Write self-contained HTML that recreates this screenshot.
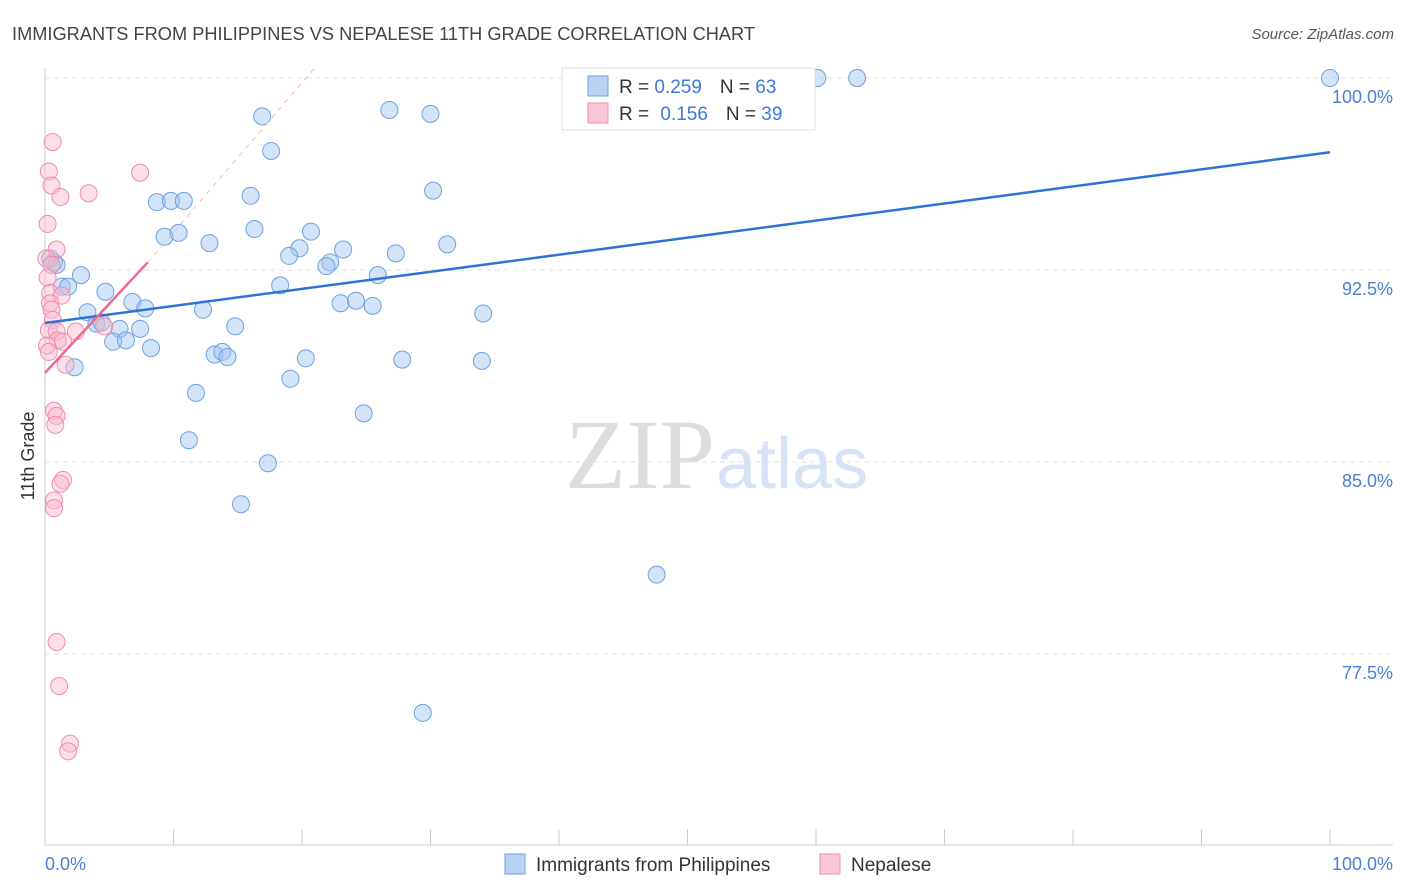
<!DOCTYPE html>
<html><head><meta charset="utf-8"><style>
body{margin:0;background:#fff;font-family:"Liberation Sans",sans-serif;}
svg{display:block}
</style></head><body>
<svg id="chart" width="1406" height="892" viewBox="0 0 1406 892">
<text x="12" y="40" font-size="18.2" fill="#444" textLength="743">IMMIGRANTS FROM PHILIPPINES VS NEPALESE 11TH GRADE CORRELATION CHART</text>
<text x="1394" y="39" font-size="15" fill="#555" text-anchor="end" font-style="italic">Source: ZipAtlas.com</text>
<text x="715" y="488" font-size="100" fill="#ddd" text-anchor="end" font-family="Liberation Serif">ZIP</text>
<text x="716" y="488" font-size="72" fill="#d5e3f5">atlas</text>
<g id="grid"></g>
<g id="axes"></g>
<g id="trends"></g>
<g id="points"></g>
<text transform="translate(34,456) rotate(-90)" font-size="18" fill="#333" text-anchor="middle">11th Grade</text>
<text x="45" y="870" font-size="18" fill="#4a7fd4">0.0%</text>
<text x="1393" y="870" font-size="18" fill="#4a7fd4" text-anchor="end">100.0%</text>
<g id="statslegend">
<rect x="562" y="68" width="253" height="62" fill="#fff" stroke="#ddd"/>
<rect x="588" y="76" width="20" height="20" fill="#b8d2f4" stroke="#6fa0e0"/>
<rect x="588" y="103" width="20" height="20" fill="#f9c6d5" stroke="#f08cab"/>
<text x="619" y="93" font-size="19" fill="#333">R = <tspan fill="#3b78d8">0.259</tspan><tspan dx="18">N = </tspan><tspan fill="#3b78d8">63</tspan></text>
<text x="619" y="120" font-size="19" fill="#333">R = <tspan dx="6" fill="#3b78d8">0.156</tspan><tspan dx="18">N = </tspan><tspan fill="#3b78d8">39</tspan></text>
</g>
<g>
<rect x="505" y="854" width="20" height="20" fill="#b8d2f4" stroke="#6fa0e0"/>
<text x="536" y="871" font-size="19" fill="#333">Immigrants from Philippines</text>
<rect x="820" y="854" width="20" height="20" fill="#f9c6d5" stroke="#f08cab"/>
<text x="851" y="871" font-size="19" fill="#333">Nepalese</text>
</g>
</svg>
<script>
const yTicks=[100,92.5,85,77.5];
const yTickLabels=["100.0%","92.5%","85.0%","77.5%"];
const xTicks=[0,10,20,30,40,50,60,70,80,90,100];
const blueX=[60.1,63.2,100,16.9,26.8,30.0,17.6,30.2,16.0,8.7,9.8,10.8,16.3,9.3,10.4,20.7,12.8,31.3,19.8,23.2,27.3,19.0,22.2,21.9,0.7,0.4,0.9,2.8,25.9,18.3,1.3,1.8,4.7,6.8,7.8,23.0,24.2,25.5,12.3,3.3,34.1,4.0,4.4,5.8,7.4,14.8,5.3,6.3,8.25,13.2,13.8,14.2,20.3,27.8,34.0,2.3,19.1,11.75,24.8,11.2,17.35,15.25,47.6,29.4];
const blueY=[100,100,100,98.5,98.75,98.6,97.15,95.6,95.4,95.15,95.2,95.2,94.1,93.8,93.95,94.0,93.55,93.5,93.35,93.3,93.15,93.05,92.8,92.65,92.8,92.95,92.7,92.3,92.3,91.9,91.85,91.85,91.65,91.25,91.0,91.2,91.3,91.1,90.95,90.85,90.8,90.4,90.45,90.2,90.2,90.3,89.7,89.75,89.45,89.2,89.3,89.1,89.05,89.0,88.95,88.7,88.25,87.7,86.9,85.85,84.95,83.35,80.6,75.2];
const pinkX=[0.6,0.3,7.4,0.5,3.4,1.2,0.2,0.9,0.1,0.5,0.2,0.4,1.3,0.4,0.5,0.6,0.3,0.9,2.4,4.6,1.0,1.4,0.16,0.3,1.6,0.7,0.9,0.8,1.4,1.2,0.7,0.7,0.9,1.1,1.95,1.8];
const pinkY=[97.5,96.35,96.3,95.8,95.5,95.35,94.3,93.3,92.95,92.7,92.2,91.6,91.5,91.2,90.95,90.55,90.15,90.1,90.1,90.3,89.75,89.7,89.55,89.3,88.8,87.0,86.8,86.45,84.3,84.15,83.5,83.2,77.97,76.25,74.0,73.7];
const blueTrend=[[0,90.43],[100,97.1]];
const pinkTrend=[[0,88.48],[8,92.8]];
const pinkDash=[[8,92.8],[21,100.4]];
const NS="http://www.w3.org/2000/svg";
const X=v=>45+v*12.85, Y=v=>78+(100-v)*25.6;
function mk(t,a,p){const e=document.createElementNS(NS,t);for(const k in a)e.setAttribute(k,a[k]);document.getElementById(p).appendChild(e);return e;}
yTicks.forEach((t,i)=>{
 const l=mk('line',{x1:45,x2:1393,y1:Y(t),y2:Y(t),stroke:'#e2e2e2','stroke-dasharray':'5,4'},'grid');
 
 
 const tx=mk('text',{x:1393,y:Y(t)+25,'font-size':18,fill:'#4a7fd4','text-anchor':'end'},'grid');
 tx.textContent=yTickLabels[i];
 
 
});
let a=mk('line',{x1:45,x2:45,y1:68,y2:845,stroke:'#ccc'},'axes');


a=mk('line',{x1:45,x2:1393,y1:845,y2:845,stroke:'#ccc'},'axes');


xTicks.forEach(t=>{const l=mk('line',{x1:X(t),x2:X(t),y1:829,y2:845,stroke:'#ccc'},'axes');
 
 });
function line(d,c,w,dash,name){const l=mk('line',{x1:X(d[0][0]),y1:Y(d[0][1]),x2:X(d[1][0]),y2:Y(d[1][1]),stroke:c,'stroke-width':w},'trends');if(dash)l.setAttribute('stroke-dasharray',dash);
 
 }
line(pinkDash,'#f3b4c6',1,'5,5','pink-trend-extension');
blueX.forEach((x,i)=>{const c=mk('circle',{cx:X(x),cy:Y(blueY[i]),r:8.5,fill:'rgba(160,195,240,0.45)',stroke:'#6fa0e0','stroke-width':1},'points');
 
 });
pinkX.forEach((x,i)=>{const c=mk('circle',{cx:X(x),cy:Y(pinkY[i]),r:8.5,fill:'rgba(248,185,205,0.45)',stroke:'#f08cab','stroke-width':1},'points');
 
 });
const svgEl=document.getElementById('chart');
svgEl.appendChild(document.getElementById('trends'));
line(blueTrend,'#2f72d6',2.5,null,'philippines-trend-line');
line(pinkTrend,'#ec6a93',2.5,null,'nepalese-trend-line');
svgEl.appendChild(document.getElementById('statslegend'));
</script>
</body></html>
